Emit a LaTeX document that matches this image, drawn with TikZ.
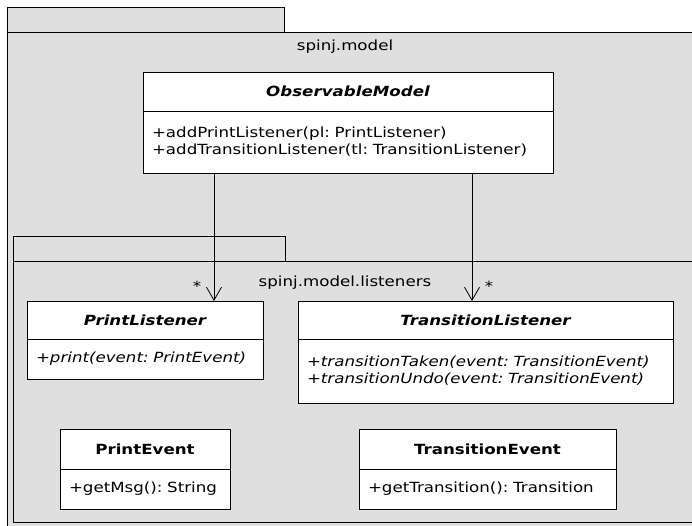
\documentclass[tikz,border=0pt]{standalone}
\usepackage{fontspec}
\setmainfont{DejaVu Sans}[FakeStretch=1.19]
\frenchspacing
\usetikzlibrary{positioning,arrows.meta}
\definecolor{pkgfill}{RGB}{223,223,223}
\newcommand\umlfont{\fontsize{14}{17}\selectfont}
\tikzset{
  pkg/.style={draw=black, fill=pkgfill, line width=1pt},
  clshead/.style={draw=black, fill=white, line width=1pt, inner sep=0pt, outer sep=0pt, font=\umlfont\bfseries},
  clsbody/.style={draw=black, fill=white, line width=1pt, inner xsep=9pt, inner ysep=0pt, outer sep=0pt, align=left, font=\umlfont},
  assoc/.style={line width=0.8pt, -{Straight Barb[length=13pt,width=15pt]}},
  mult/.style={inner sep=0pt, font=\umlfont}
}
\begin{document}
\begin{tikzpicture}[x=1pt,y=-1pt,font=\umlfont]
        \useasboundingbox (0,0) rectangle (692,525);
        \clip (0,0) rectangle (692,525);
        % package spinj.model
        \draw[pkg] (7,7) rectangle (284,32);
        \draw[pkg] (7,32) rectangle (720,540);
        \node (pkgmodel) at (345,47) {spinj.model};
        % package spinj.model.listeners
        \draw[pkg] (13,236) rectangle (285,261);
        \draw[pkg] (13,261) rectangle (720,522);
        \node (pkglisteners) at (345,283) {spinj.model.listeners};
        % classes
        \node[clshead, minimum width=410, minimum height=39] (omh) at (348,91.5) {\itshape ObservableModel};
        \node[clsbody, text width=392, minimum height=62, below=0pt of omh] (omb)
            {+addPrintListener(pl: PrintListener)\\+addTransitionListener(tl: TransitionListener)};
        \node[clshead, minimum width=236, minimum height=38] (plh) at (145,320) {\itshape PrintListener};
        \node[clsbody, text width=218, minimum height=40, below=0pt of plh] (plb)
            {\itshape +print(event: PrintEvent)};
        \node[clshead, minimum width=375, minimum height=38] (tlh) at (485.5,320) {\itshape TransitionListener};
        \node[clsbody, text width=357, minimum height=64, below=0pt of tlh] (tlb)
            {\itshape +transitionTaken(event: TransitionEvent)\\\itshape +transitionUndo(event: TransitionEvent)};
        \node[clshead, minimum width=170, minimum height=40] (peh) at (145,449) {PrintEvent};
        \node[clsbody, text width=152, minimum height=40, below=0pt of peh] (peb) {+getMsg(): String};
        \node[clshead, minimum width=257, minimum height=40] (teh) at (487.5,449) {TransitionEvent};
        \node[clsbody, text width=239, minimum height=40, below=0pt of teh] (teb) {+getTransition(): Transition};
        % associations
        \draw[assoc] ([xshift=71]omb.south west) -- ([xshift=187]plh.north west)
            node[mult, xshift=-17, yshift=15] (m1) {*};
        \draw[assoc] ([xshift=329]omb.south west) -- ([xshift=174]tlh.north west)
            node[mult, xshift=17, yshift=15] (m2) {*};
    \end{tikzpicture}
\end{document}
